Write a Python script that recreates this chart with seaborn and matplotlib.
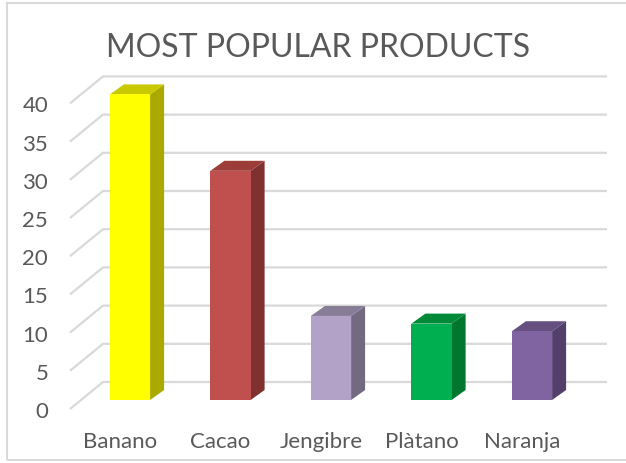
import numpy as np
import pandas as pd
import matplotlib
matplotlib.use("Agg")
import matplotlib.pyplot as plt
import matplotlib.transforms as mtransforms
from matplotlib.patches import Polygon, Rectangle
import seaborn as sns


# ============================================================
# DATA
# ============================================================

products = ["Banano", "Cacao", "Jengibre", "Plàtano", "Naranja"]
counts = [40, 30, 11, 10, 9]
front_colors = ["#FFFF00", "#C0504D", "#B3A2C7", "#00B050", "#8064A2"]
side_colors = ["#A9A900", "#7E312F", "#736A82", "#00772F", "#533F6C"]
top_colors = ["#C9C900", "#9C3D3A", "#887D97", "#008A38", "#654F80"]
y_ticks = [0, 5, 10, 15, 20, 25, 30, 35, 40]
title = "MOST POPULAR PRODUCTS"

df = pd.DataFrame({"product": products, "count": counts})


# ============================================================
# FIGURE / AXES (pixel layout)
# ============================================================

W, H = 626, 464
sns.set_style("white")
plt.rcParams["font.family"] = ["Lato", "DejaVu Sans"]

fig = plt.figure(figsize=(W / 100, H / 100), dpi=100)
ax_l, ax_r, ax_t, ax_b = 60, 615, 60, 415
ax = fig.add_axes([ax_l / W, 1 - ax_b / H, (ax_r - ax_l) / W, (ax_b - ax_t) / H])

sns.barplot(data=df, x="product", y="count", hue="product",
            palette=front_colors, width=0.4, ax=ax, legend=False,
            saturation=1, zorder=3, linewidth=0, edgecolor="none")

# pixel -> data mapping: bar i centred at 130 + 100.5*i, value 0 at y=401, 7.64 px/unit
px_per_cat = 100.5
px_per_unit = 7.64
ax.set_xlim((ax_l - 130) / px_per_cat, (ax_r - 130) / px_per_cat)
ax.set_ylim((401 - ax_b) / px_per_unit, (401 - ax_t) / px_per_unit)

# 3D offsets (in data units)
floor_front_dy = -9 / px_per_unit
wall_dy = 18 / px_per_unit
wall_x0 = (103 - 130) / px_per_cat
floor_x0 = (70 - 130) / px_per_cat
wall_x1 = (607 - 130) / px_per_cat
depth_dx = 14 / px_per_cat
depth_dy = 10 / px_per_unit

grid_c = "#D9D9D9"
for v in y_ticks:
    ax.plot([floor_x0, wall_x0, wall_x1],
            [v + floor_front_dy, v + wall_dy, v + wall_dy],
            color=grid_c, lw=1.6, zorder=1, solid_capstyle="butt")

for p, sc, tc in zip(ax.patches, side_colors, top_colors):
    x0, y0 = p.get_x(), p.get_y()
    w, h = p.get_width(), p.get_height()
    x1, y1 = x0 + w, y0 + h
    side = Polygon([(x1, y0), (x1 + depth_dx, y0 + depth_dy),
                    (x1 + depth_dx, y1 + depth_dy), (x1, y1)],
                   closed=True, facecolor=sc, edgecolor="none", zorder=2.5)
    top = Polygon([(x0, y1), (x0 + depth_dx, y1 + depth_dy),
                   (x1 + depth_dx, y1 + depth_dy), (x1, y1)],
                  closed=True, facecolor=tc, edgecolor="none", zorder=2.5)
    ax.add_patch(side)
    ax.add_patch(top)

ax.set_yticks(y_ticks)
ax.set_yticklabels([str(v) for v in y_ticks])
ax.set_xlabel("")
ax.set_ylabel("")
ax.tick_params(axis="both", length=0, labelsize=16, labelcolor="#595959")
ax.tick_params(axis="y", pad=8.5)
ax.tick_params(axis="x", pad=12)

for lab in ax.get_yticklabels():
    lab.set_transform(lab.get_transform() +
                      mtransforms.ScaledTranslation(0, -9 / 100, fig.dpi_scale_trans))
for lab in ax.get_xticklabels():
    lab.set_transform(lab.get_transform() +
                      mtransforms.ScaledTranslation(-10 / 100, 0, fig.dpi_scale_trans))

for s in ax.spines.values():
    s.set_visible(False)

fig.text(318 / W, 1 - 48 / H, title, ha="center", va="center",
         fontsize=23, color="#595959")

# chart border
fig.patches.append(Rectangle((7 / W, 1 - 461 / H), 1, (461 - 4) / H,
                             transform=fig.transFigure, fill=False,
                             edgecolor="#D9D9D9", lw=1.5))

fig.savefig("out.png", dpi=100)
